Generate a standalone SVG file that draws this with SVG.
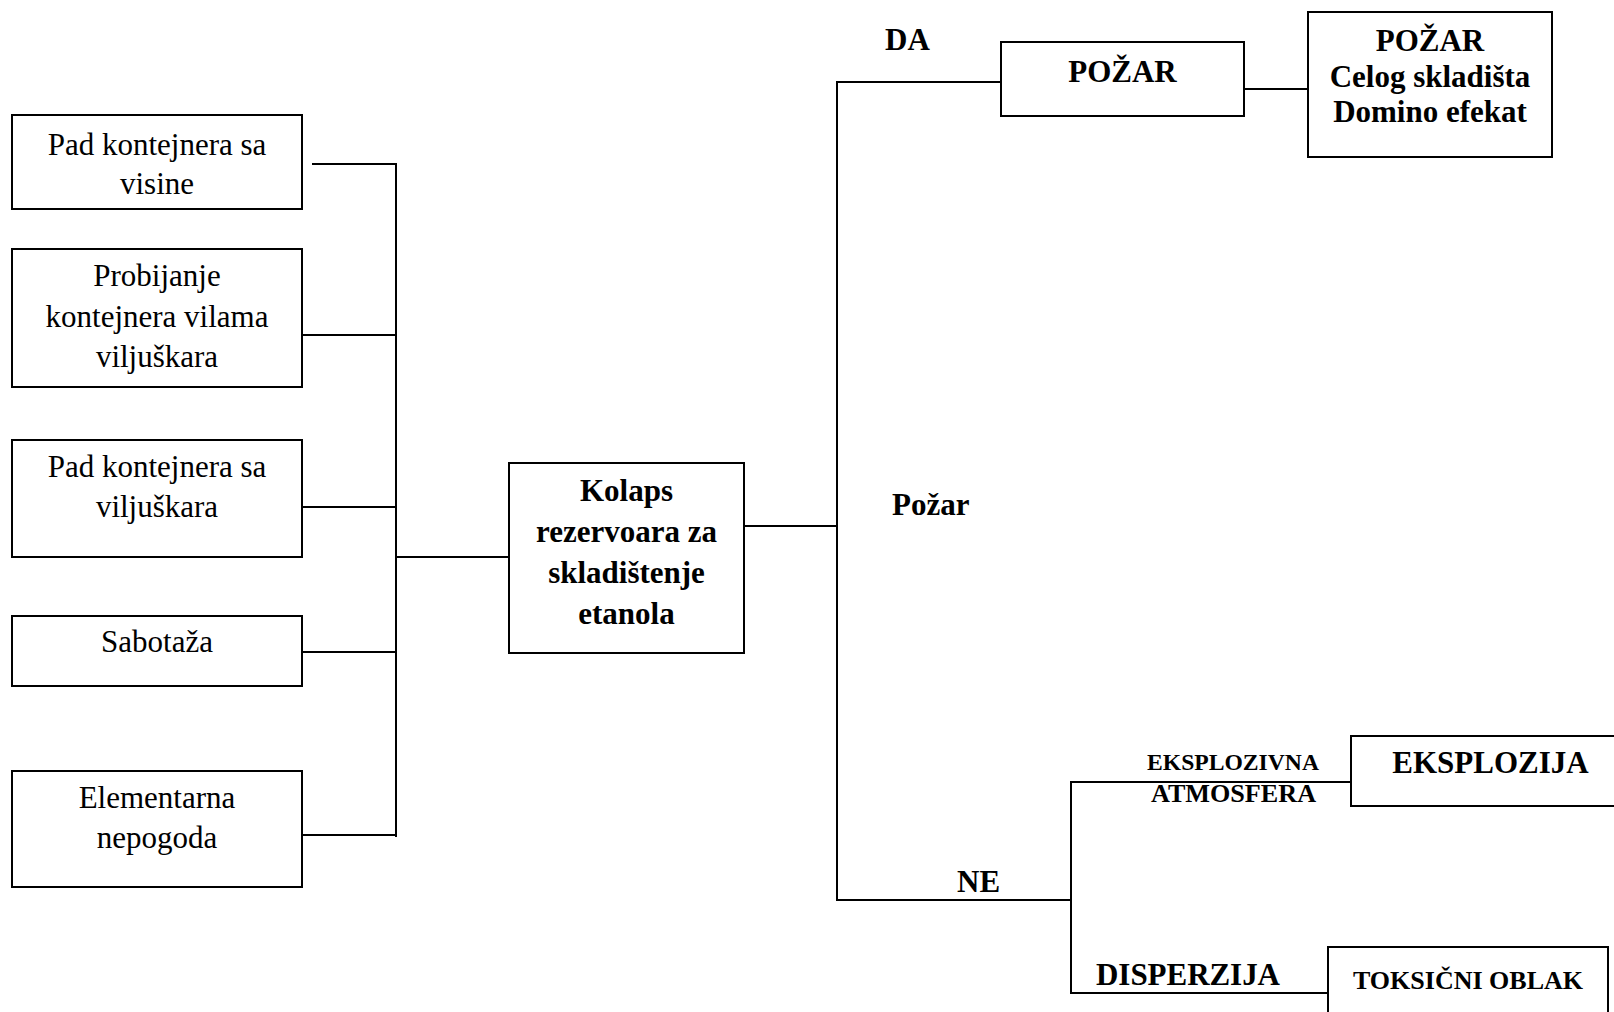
<svg xmlns="http://www.w3.org/2000/svg" width="1614" height="1012" viewBox="0 0 1614 1012">
  <style>
    .box { fill: #ffffff; stroke: #000000; stroke-width: 2; }
    .wire { fill: none; stroke: #000000; stroke-width: 2; }
    .t { font-family: "Liberation Serif", "Times New Roman", serif; font-size: 31px; fill: #000000; text-anchor: middle; }
    .b { font-weight: bold; }
    .lbl { font-family: "Liberation Serif", "Times New Roman", serif; font-weight: bold; fill: #000000; }
  </style>
  <rect width="1614" height="1012" fill="#ffffff"/>

  <!-- connectors -->
  <g id="connectors" class="wire">
    <!-- causes bus -->
    <polyline points="312,164 396,164 396,837"/>
    <line x1="302" y1="335" x2="396" y2="335"/>
    <line x1="302" y1="507" x2="396" y2="507"/>
    <line x1="302" y1="652" x2="396" y2="652"/>
    <line x1="302" y1="835" x2="396" y2="835"/>
    <line x1="396" y1="557" x2="509" y2="557"/>
    <!-- outcome branches -->
    <line x1="744" y1="526" x2="837" y2="526"/>
    <polyline points="1001,82 837,82 837,900 1071,900"/>
    <line x1="1244" y1="89" x2="1308" y2="89"/>
    <polyline points="1351,782 1071,782 1071,993 1328,993"/>
  </g>

  <!-- causes -->
  <g id="cause-visine">
    <rect class="box" x="12" y="115" width="290" height="94"/>
    <text class="t" x="157" y="155">Pad kontejnera sa</text>
    <text class="t" x="157" y="194">visine</text>
  </g>
  <g id="cause-probijanje">
    <rect class="box" x="12" y="249" width="290" height="138"/>
    <text class="t" x="157" y="286">Probijanje</text>
    <text class="t" x="157" y="327">kontejnera vilama</text>
    <text class="t" x="157" y="367">viljuškara</text>
  </g>
  <g id="cause-viljuskar">
    <rect class="box" x="12" y="440" width="290" height="117"/>
    <text class="t" x="157" y="477">Pad kontejnera sa</text>
    <text class="t" x="157" y="517">viljuškara</text>
  </g>
  <g id="cause-sabotaza">
    <rect class="box" x="12" y="616" width="290" height="70"/>
    <text class="t" x="157" y="652">Sabotaža</text>
  </g>
  <g id="cause-nepogoda">
    <rect class="box" x="12" y="771" width="290" height="116"/>
    <text class="t" x="157" y="808">Elementarna</text>
    <text class="t" x="157" y="848">nepogoda</text>
  </g>

  <!-- top event -->
  <g id="kolaps">
    <rect class="box" x="509" y="463" width="235" height="190"/>
    <text class="t b" x="626.5" y="501">Kolaps</text>
    <text class="t b" x="626.5" y="542">rezervoara za</text>
    <text class="t b" x="626.5" y="583">skladištenje</text>
    <text class="t b" x="626.5" y="624">etanola</text>
  </g>

  <!-- branch labels -->
  <g id="labels">
    <text class="lbl" x="885" y="50" font-size="31">DA</text>
    <text class="lbl" x="892" y="515" font-size="31">Požar</text>
    <text class="lbl" x="957" y="892" font-size="31">NE</text>
    <text class="lbl" x="1147" y="770" font-size="24" textLength="172" lengthAdjust="spacingAndGlyphs">EKSPLOZIVNA</text>
    <text class="lbl" x="1151" y="802" font-size="25" textLength="165" lengthAdjust="spacingAndGlyphs">ATMOSFERA</text>
    <text class="lbl" x="1096" y="985" font-size="31" textLength="184" lengthAdjust="spacing">DISPERZIJA</text>
  </g>

  <!-- fire branch -->
  <g id="pozar">
    <rect class="box" x="1001" y="42" width="243" height="74"/>
    <text class="t b" x="1122.5" y="82">POŽAR</text>
  </g>
  <g id="pozar-skladista">
    <rect class="box" x="1308" y="12" width="244" height="145"/>
    <text class="t b" x="1430" y="51">POŽAR</text>
    <text class="t b" x="1430" y="87">Celog skladišta</text>
    <text class="t b" x="1430" y="122">Domino efekat</text>
  </g>

  <!-- no-fire branch -->
  <g id="eksplozija">
    <rect class="box" x="1351" y="736" width="275" height="70"/>
    <text class="t b" x="1490.5" y="773">EKSPLOZIJA</text>
  </g>
  <g id="toksicni-oblak">
    <rect class="box" x="1328" y="947" width="280" height="80"/>
    <text class="t b" x="1468" y="989" style="font-size:26px">TOKSIČNI OBLAK</text>
  </g>
</svg>
